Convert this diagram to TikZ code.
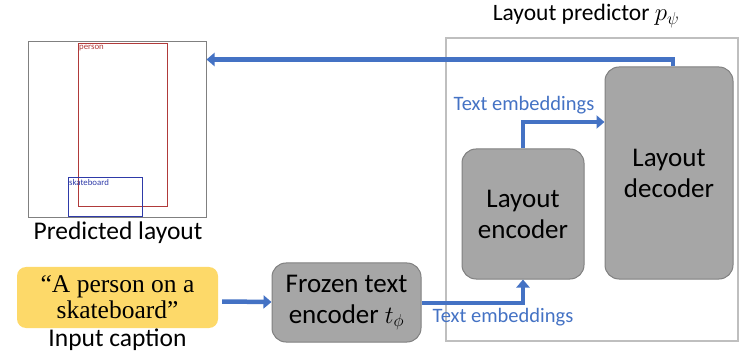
\documentclass[tikz,border=0pt]{standalone}
\usepackage{fontspec}
\setmainfont{Carlito}
\newfontfamily\quotefont{Liberation Serif}
\usetikzlibrary{arrows.meta,calc}
\definecolor{flowblue}{HTML}{4472C4}
\definecolor{blockgray}{HTML}{A6A6A6}
\definecolor{blockedge}{HTML}{808080}
\definecolor{framegray}{HTML}{BFBFBF}
\definecolor{capyellow}{HTML}{FDD969}
\definecolor{personred}{HTML}{B03A3A}
\definecolor{boardblue}{HTML}{2E3AA8}
\tikzset{
  block/.style={draw=blockedge, line width=1pt, fill=blockgray, rounded corners=14pt,
    align=center, inner sep=0pt, font=\fontsize{27}{31}\selectfont},
  flow/.style={draw=flowblue, line width=4.5pt,
    -{Triangle[width=13pt,length=8pt]}},
  flowlabel/.style={text=flowblue, font=\fontsize{20.5}{24}\selectfont, inner sep=0pt},
  caption/.style={font=\fontsize{25.5}{30}\selectfont, inner sep=0pt},
  boxlabel/.style={font=\fontsize{8.8}{10}\selectfont, anchor=north west, inner sep=0pt},
}
\begin{document}
\begin{tikzpicture}[x=1pt,y=-1pt]
\useasboundingbox (0,0) rectangle (743,352);

% predicted layout canvas with its two boxes
\node[draw=blockedge, line width=1pt, minimum width=178pt, minimum height=176pt, inner sep=0pt]
  (canvas) at (117,130) {};
\draw[personred, line width=0.9pt] (78,43) rectangle (167,206);
\node[boxlabel, text=personred] (personlbl) at (79,45) {person};
\draw[boardblue, line width=0.9pt] (68,177) rectangle (142,216);
\node[boxlabel, text=boardblue] (boardlbl) at (69,179) {skateboard};
\node[caption] (predlbl) at (118,233) {Predicted layout};

% layout predictor frame
\draw[framegray, line width=2.5pt] (446,38) rectangle (738,341);
\node[font=\fontsize{23.5}{27}\selectfont, inner sep=0pt] (predtitle) at (586,16) {Layout predictor $p_\psi$};

% blocks
\node[block, minimum width=128pt, minimum height=212pt] (dec) at (669,173) {Layout\\decoder};
\node[block, minimum width=122pt, minimum height=130pt] (enc) at (523,214) {Layout\\encoder};
\node[block, minimum width=149pt, minimum height=79pt] (frz) at (346.5,302.5) {Frozen text\\encoder $t_\phi$};
\node[fill=capyellow, rounded corners=9pt, minimum width=201pt, minimum height=61pt, inner sep=0pt]
  (cap) at (117.5,297.5) {};
\node[align=center, font=\quotefont\fontsize{25.5}{26}\selectfont, inner sep=0pt]
  (captext) at (cap.center) {“A person on a\\skateboard”};
\node[caption] (caplbl) at (117.5,340) {Input caption};

% connectors
\coordinate (topturn) at ($(dec.north)+(4,-7)$);
\draw[flow] ($(dec.north)+(4,0)$) -- (topturn) -- (canvas.east |- topturn);
\draw[flow] (cap.east) ++(4,4) -- (frz.west |- 0,302);
\coordinate (lowturn) at (enc.south |- 0,303);
\draw[flow] (frz.east |- lowturn) -- (lowturn) -- (enc.south);
\coordinate (midturn) at (enc.north |- 0,122);
\draw[flow] (enc.north) -- (midturn) -- (dec.west |- midturn);

% connector labels
\node[flowlabel] (midlbl) at (524,105) {Text embeddings};
\node[flowlabel] (lowlbl) at (503,317) {Text embeddings};
\end{tikzpicture}
\end{document}
